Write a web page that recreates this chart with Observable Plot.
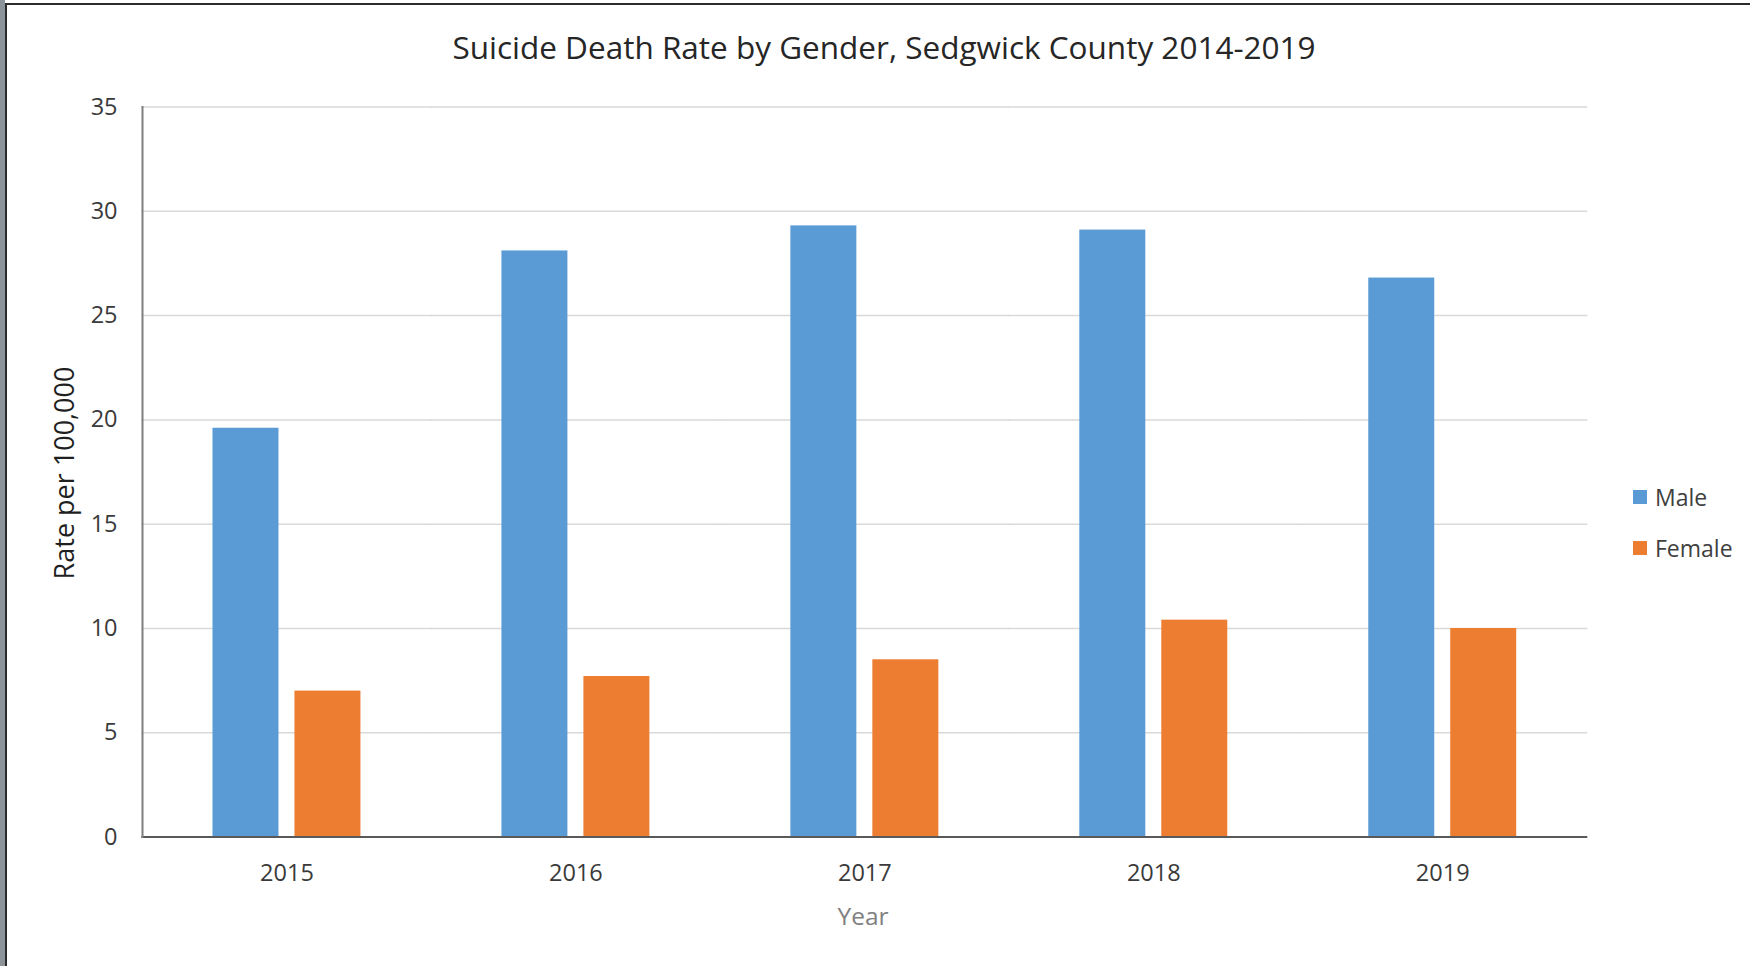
<!DOCTYPE html>
<html>
<head>
<meta charset="utf-8">
<script src="https://cdn.jsdelivr.net/npm/d3@7"></script>
<script src="https://cdn.jsdelivr.net/npm/@observablehq/plot@0.6"></script>
<style>
  html, body { margin: 0; padding: 0; background: #fff; }
  #page { position: relative; width: 1750px; height: 966px; background: #fff; overflow: hidden; font-family: "Open Sans", sans-serif; }
  #strip { position: absolute; left: 0; top: 0; width: 5px; height: 966px; background: #8d9499; }
  #bleft { position: absolute; left: 5px; top: 3px; width: 2px; height: 963px; background: #2b2b2b; }
  #btop { position: absolute; left: 5px; top: 3px; width: 1745px; height: 2px; background: #2b2b2b; }
  #title { position: absolute; left: 9px; width: 1750px; top: 27px; line-height: 40px; text-align: center; font-size: 31.5px; color: #262626; white-space: nowrap; }
  #chart { position: absolute; left: 0; top: 90px; }
  #legend { position: absolute; left: 1633px; top: 472px; font-size: 23px; color: #404040; }
  .item { position: relative; height: 50.5px; display: flex; align-items: center; }
  .sw { width: 14px; height: 14px; margin-right: 8px; }
</style>
</head>
<body>
<div id="page">
  <div id="strip"></div>
  <div id="bleft"></div>
  <div id="btop"></div>
  <div id="title"></div>
  <div id="chart"></div>
  <div id="legend"></div>
</div>
<script>
const title = "Suicide Death Rate by Gender, Sedgwick County 2014-2019";
const years = [2015, 2016, 2017, 2018, 2019];
const series = ["Male", "Female"];
const maleRate = [19.6, 28.1, 29.3, 29.1, 26.8];
const femaleRate = [7.0, 7.7, 8.5, 10.4, 10.0];
const yTicks = [0, 5, 10, 15, 20, 25, 30, 35];
const colors = ["#5b9bd5", "#ed7d31"];
const yLabel = "Rate per 100,000";
const xLabel = "Year";

const table = years.flatMap((yr, i) => [
  {year: yr, sex: series[0], rate: maleRate[i]},
  {year: yr, sex: series[1], rate: femaleRate[i]}
]);

document.getElementById("title").textContent = title;

const plot = Plot.plot({
  width: 1750,
  height: 876,
  marginLeft: 142,
  marginRight: 163.3,
  marginTop: 16.5,
  marginBottom: 129.4,
  style: {fontFamily: "Open Sans, sans-serif", fontSize: "23.5px", color: "#3a3a3a", background: "transparent"},
  fx: {domain: years, padding: 0, round: false, label: null},
  x: {domain: series, paddingInner: 0.195, paddingOuter: 0.86, round: false, axis: null},
  y: {domain: [0, 35], label: null},
  color: {domain: series, range: colors},
  marks: [
    Plot.ruleY(yTicks.filter(d => d > 0), {stroke: "#d9d9d9", strokeWidth: 1.5, insetLeft: -0.6, insetRight: -0.6}),
    Plot.barY(table, {fx: "year", x: "sex", y: "rate", fill: "sex", inset: 0}),
    Plot.ruleY([0], {stroke: "#595959", strokeWidth: 2, insetLeft: -0.6, insetRight: -0.6}),
    Plot.frame({anchor: "left", facetAnchor: "left", stroke: "#7f7f7f", strokeWidth: 2}),
    Plot.axisY({ticks: yTicks, tickSize: 0, tickPadding: 25, tickFormat: d => String(d), label: null}),
    Plot.axisFx({anchor: "bottom", tickSize: 0, tickPadding: 27, tickFormat: d => String(d), label: null})
  ]
});
document.getElementById("chart").appendChild(plot);

const page = document.getElementById("page");
const yl = document.createElement("div");
yl.textContent = yLabel;
yl.style.cssText = "position:absolute;left:63.6px;top:473px;transform:translate(-50%,-50%) rotate(-90deg);font-size:27px;color:#1f1f1f;white-space:nowrap;line-height:30px;";
page.appendChild(yl);
const xl = document.createElement("div");
xl.textContent = xLabel;
xl.style.cssText = "position:absolute;left:863px;top:916px;transform:translate(-50%,-50%);font-size:24.5px;color:#808080;white-space:nowrap;line-height:30px;";
page.appendChild(xl);

const legend = document.getElementById("legend");
series.forEach((s, i) => {
  const it = document.createElement("div");
  it.className = "item";
  const sw = document.createElement("div");
  sw.className = "sw";
  sw.style.background = colors[i];
  const tx = document.createElement("span");
  tx.textContent = s;
  it.appendChild(sw);
  it.appendChild(tx);
  legend.appendChild(it);
});
</script>
</body>
</html>
